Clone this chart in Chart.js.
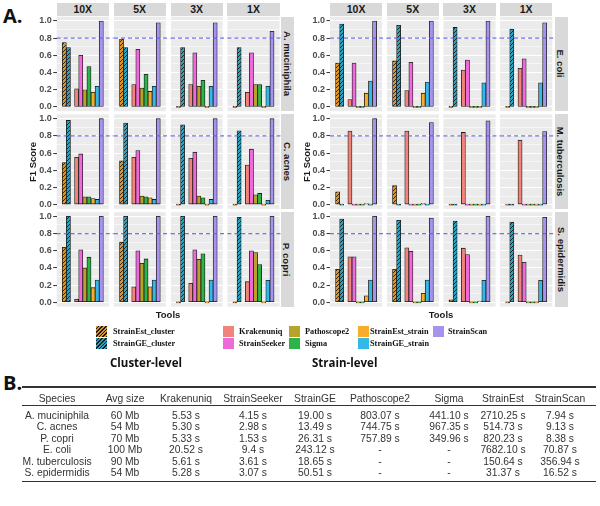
<!DOCTYPE html>
<html><head><meta charset="utf-8">
<script src="https://cdn.jsdelivr.net/npm/chart.js@4.4.1/dist/chart.umd.min.js"></script>
<style>
body{margin:0;width:600px;height:506px;background:#fff;position:relative;overflow:hidden;font-family:"Liberation Sans",Arial,sans-serif;}
.t{position:absolute;white-space:nowrap;}
.strip{position:absolute;background:#D9D9D9;color:#1a1a1a;font-weight:bold;font-size:10.5px;display:flex;align-items:center;justify-content:center;white-space:nowrap;overflow:visible;}
.strip.r{font-size:9.5px;}
.strip.r span{display:block;transform:rotate(90deg);}
canvas{position:absolute;}
.key{position:absolute;width:11px;height:11.5px;}
.lt{position:absolute;font-family:"Liberation Serif","DejaVu Serif",serif;font-weight:bold;font-size:8.3px;color:#111;white-space:nowrap;line-height:11.5px;}
.cell{position:absolute;font-size:10.3px;color:#333;white-space:nowrap;transform:translateX(-50%);line-height:12px;}
.hl{position:absolute;background:#333;}
</style></head><body>
<script>
// ---------------- DATA ----------------
const depths = ['10X', '5X', '3X', '1X'];
const clusterSpecies = ['A. muciniphila', 'C. acnes', 'P. copri'];
const strainSpecies = ['E. coli', 'M. tuberculosis', 'S. epidermidis'];
const tools = ['StrainEst_cluster', 'StrainGE_cluster', 'Krakenuniq', 'StrainSeeker', 'Pathoscope2', 'Sigma', 'StrainEst_strain', 'StrainGE_strain', 'StrainScan'];
const toolSlots = [0, 1, 3, 4, 5, 6, 7, 8, 9];
const yTicks = [0, 0.1, 0.2, 0.3, 0.4, 0.5, 0.6, 0.7, 0.8, 0.9, 1.0];
const threshold = 0.8;
// F1 scores per depth (10X, 5X, 3X, 1X), in tool order
const aMuciniphila = [
  [0.75, 0.69, 0.21, 0.60, 0.20, 0.47, 0.17, 0.24, 1.00],
  [0.79, 0.69, 0.26, 0.67, 0.22, 0.38, 0.18, 0.24, 0.98],
  [0, 0.69, 0.26, 0.63, 0.24, 0.31, 0, 0.24, 0.98],
  [0, 0.69, 0.17, 0.63, 0.26, 0.26, 0, 0.24, 0.88]];
const cAcnes = [
  [0.49, 0.98, 0.55, 0.59, 0.09, 0.09, 0.07, 0.06, 1.00],
  [0.51, 0.95, 0.55, 0.63, 0.10, 0.09, 0.08, 0.06, 1.00],
  [0, 0.93, 0.54, 0.61, 0.10, 0.08, 0, 0.06, 1.00],
  [0, 0.86, 0.46, 0.645, 0.115, 0.13, 0, 0.05, 1.00]];
const pCopri = [
  [0.64, 1.00, 0.035, 0.61, 0.40, 0.525, 0.17, 0.26, 1.00],
  [0.70, 1.00, 0.18, 0.60, 0.455, 0.505, 0.18, 0.26, 1.00],
  [0, 1.00, 0.22, 0.61, 0.50, 0.565, 0, 0.26, 1.00],
  [0, 0.99, 0.24, 0.60, 0.58, 0.44, 0, 0.255, 1.00]];
const eColi = [
  [0.51, 0.965, 0.085, 0.51, 0, 0, 0.16, 0.30, 1.00],
  [0.535, 0.95, 0.19, 0.52, 0, 0, 0.16, 0.29, 1.00],
  [0, 0.925, 0.43, 0.545, 0, 0, 0, 0.28, 1.00],
  [0, 0.905, 0.45, 0.56, 0, 0, 0, 0.28, 0.98]];
const mTuberculosis = [
  [0.15, 0, 0.855, 0, 0, 0, 0.01, 0, 1.00],
  [0.22, 0, 0.855, 0, 0, 0, 0.015, 0, 0.955],
  [0, 0, 0.84, 0, 0, 0, 0, 0, 0.975],
  [0, 0, 0.75, 0, 0, 0, 0, 0, 0.85]];
const sEpidermidis = [
  [0.385, 0.97, 0.53, 0.53, 0, 0, 0.075, 0.26, 1.00],
  [0.385, 0.955, 0.635, 0.595, 0, 0, 0.105, 0.26, 0.98],
  [0.03, 0.945, 0.63, 0.555, 0, 0, 0.015, 0.255, 1.00],
  [0, 0.935, 0.55, 0.465, 0, 0, 0, 0.255, 0.99]];
const clusterValues = [aMuciniphila, cAcnes, pCopri];
const strainValues = [eColi, mTuberculosis, sEpidermidis];
// Table B
const tableHeaders = ['Species', 'Avg size', 'Krakenuniq', 'StrainSeeker', 'StrainGE', 'Pathoscope2', 'Sigma', 'StrainEst', 'StrainScan'];
const tableRows = [
  ['A. muciniphila', '60 Mb', '5.53 s', '4.15 s', '19.00 s', '803.07 s', '441.10 s', '2710.25 s', '7.94 s'],
  ['C. acnes', '54 Mb', '5.30 s', '2.98 s', '13.49 s', '744.75 s', '967.35 s', '514.73 s', '9.13 s'],
  ['P. copri', '70 Mb', '5.33 s', '1.53 s', '26.31 s', '757.89 s', '349.96 s', '820.23 s', '8.38 s'],
  ['E. coli', '100 Mb', '20.52 s', '9.4 s', '243.12 s', '-', '-', '7682.10 s', '70.87 s'],
  ['M. tuberculosis', '90 Mb', '5.61 s', '3.61 s', '18.65 s', '-', '-', '150.64 s', '356.94 s'],
  ['S. epidermidis', '54 Mb', '5.28 s', '3.07 s', '50.51 s', '-', '-', '31.37 s', '16.52 s']];

// ---------------- STYLE ----------------
const toolColors = ['#DB952B', '#2AA3C0', '#F0837A', '#EE6ADB', '#B8A328', '#2DB34A', '#F7AC2A', '#33B8E8', '#A792EE'];
const hatched = [true, true, false, false, false, false, false, false, false];
const FONT = '"Liberation Sans", Arial, sans-serif';
const G = {
  left: { colX: [56.7, 113.6, 170.5, 227.4], stripX: 280.5, yTitleX: 33, toolsX: 168 },
  right: { colX: [330, 386.7, 443.4, 500.1], stripX: 554.5, yTitleX: 307, toolsX: 441 },
  rowY: [16.7, 114.4, 212.1], panelW: 52.2, panelH: 94.5, axisW: 30
};

function add(tag, cls, css, text) {
  const e = document.createElement(tag);
  if (cls) e.className = cls;
  Object.assign(e.style, css || {});
  if (text !== undefined) e.textContent = text;
  document.body.appendChild(e);
  return e;
}
function makePattern(ctx, base) {
  const c = document.createElement('canvas');
  c.width = 4; c.height = 4;
  const p = c.getContext('2d');
  p.fillStyle = base; p.fillRect(0, 0, 4, 4);
  p.strokeStyle = '#1a1a1a'; p.lineWidth = 0.9;
  p.beginPath();
  p.moveTo(-1, 5); p.lineTo(5, -1);
  p.moveTo(-1, 1); p.lineTo(1, -1);
  p.moveTo(3, 5); p.lineTo(5, 3);
  p.stroke();
  return ctx.createPattern(c, 'repeat');
}
const bgPlugin = {
  id: 'panelbg',
  beforeDraw(chart) {
    const a = chart.chartArea, ctx = chart.ctx;
    ctx.save(); ctx.fillStyle = '#EBEBEB';
    ctx.fillRect(a.left, a.top, a.right - a.left, a.bottom - a.top);
    ctx.restore();
  }
};
const hlinePlugin = {
  id: 'hline',
  afterDatasetsDraw(chart, args, opts) {
    const a = chart.chartArea, ctx = chart.ctx;
    const py = chart.scales.y.getPixelForValue(threshold);
    ctx.save();
    ctx.strokeStyle = 'rgba(92,92,228,0.85)'; ctx.lineWidth = 1.2; ctx.setLineDash([4, 3]);
    ctx.beginPath(); ctx.moveTo(a.left, py); ctx.lineTo(a.right + (opts.ext || 0), py); ctx.stroke();
    ctx.restore();
  }
};
const isMajor = v => Math.abs(Math.round(v * 10) % 2) === 0;

function panel(grid, row, col, values) {
  const px = grid.colX[col], py = G.rowY[row];
  const axisW = col === 0 ? G.axisW : 0;
  const gap = col < 3 ? (grid.colX[col + 1] - px - G.panelW) : 1;
  const pad = 9;
  const cv = add('canvas', null, {});
  const left = Math.round(px - axisW), top = Math.round(py - pad);
  const W = Math.ceil(axisW + G.panelW + gap + 1), H = Math.ceil(G.panelH + 2 * pad);
  cv.width = W; cv.height = H;
  cv.style.left = left + 'px'; cv.style.top = top + 'px';
  cv.style.width = W + 'px'; cv.style.height = H + 'px';
  const aw = px - left;                 // exact axis width so chart area starts at px
  const padTop = py - top;
  const padRight = W - aw - G.panelW;
  const padBottom = H - padTop - G.panelH;
  const ctx = cv.getContext('2d');
  const bg = toolColors.map((c, i) => hatched[i] ? makePattern(ctx, c) : c);
  new Chart(cv, {
    type: 'bar',
    data: {
      datasets: [{
        data: values.map((v, i) => ({ x: toolSlots[i], y: v })),
        backgroundColor: bg,
        borderColor: '#1a1a1a', borderWidth: 0.8, borderSkipped: false,
        barPercentage: 1, categoryPercentage: 1, minBarLength: 1
      }]
    },
    options: {
      responsive: false, maintainAspectRatio: false, animation: false, devicePixelRatio: 1,
      layout: { padding: { left: 0, right: padRight, top: padTop, bottom: padBottom } },
      plugins: { legend: { display: false }, tooltip: { enabled: false }, hline: { ext: gap } },
      scales: {
        x: { type: 'linear', min: -1.85, max: 10.85, offset: false, display: false },
        y: {
          min: -0.05, max: 1.05,
          afterBuildTicks: s => { s.ticks = yTicks.map(v => ({ value: v })); },
          afterFit: s => { s.width = aw; },
          border: { display: false },
          grid: {
            color: '#FFFFFF',
            lineWidth: c => (c.tick && isMajor(c.tick.value)) ? 1.1 : 0.55,
            drawTicks: col === 0, tickLength: 3.5, tickWidth: 1,
            tickColor: c => (c.tick && isMajor(c.tick.value)) ? '#333333' : 'rgba(0,0,0,0)'
          },
          ticks: {
            display: col === 0, padding: 1.5, autoSkip: false, maxRotation: 0,
            color: '#4D4D4D', font: { family: FONT, size: 9, weight: 'bold' },
            callback: v => isMajor(v) ? v.toFixed(1) : ''
          }
        }
      }
    },
    plugins: [bgPlugin, hlinePlugin]
  });
}

function facetGrid(grid, speciesList, valueSets) {
  depths.forEach((d, c) => {
    add('div', 'strip', { left: grid.colX[c] + 'px', top: '2.5px', width: G.panelW + 'px', height: '13.5px' }, d);
  });
  speciesList.forEach((sp, r) => {
    const s = add('div', 'strip r', { left: grid.stripX + 'px', top: G.rowY[r] + 'px', width: '13.5px', height: G.panelH + 'px' });
    const sp2 = document.createElement('span'); sp2.textContent = sp; s.appendChild(sp2);
    depths.forEach((d, c) => panel(grid, r, c, valueSets[r][c]));
  });
  add('div', 't', { left: (grid.yTitleX - 30) + 'px', top: (G.rowY[1] + G.panelH / 2 - 6) + 'px', width: '60px', height: '12px', textAlign: 'center', fontWeight: 'bold', fontSize: '9.5px', color: '#1a1a1a', transform: 'rotate(-90deg)', lineHeight: '12px' }, 'F1 Score');
  add('div', 't', { left: (grid.toolsX - 30) + 'px', top: '309px', width: '60px', textAlign: 'center', fontWeight: 'bold', fontSize: '9.5px', color: '#1a1a1a', lineHeight: '12px' }, 'Tools');
}

// Panel letters
add('div', 't', { left: '3px', top: '4px', fontWeight: 'bold', fontSize: '20px', color: '#111', fontFamily: '"Open Sans","Liberation Sans",sans-serif', lineHeight: '24px' }, 'A.');
add('div', 't', { left: '3px', top: '371px', fontWeight: 'bold', fontSize: '20px', color: '#111', fontFamily: '"Open Sans","Liberation Sans",sans-serif', lineHeight: '24px' }, 'B.');

facetGrid(G.left, clusterSpecies, clusterValues);
facetGrid(G.right, strainSpecies, strainValues);

// Legends
function key(x, y, i) {
  const k = add('div', 'key', { left: x + 'px', top: y + 'px' });
  if (hatched[i]) k.style.background = 'repeating-linear-gradient(135deg,' + toolColors[i] + ' 0px,' + toolColors[i] + ' 1.6px,#1a1a1a 1.6px,#1a1a1a 2.6px)';
  else k.style.background = toolColors[i];
}
const legendItems = [
  [0, 96, 325.5, 113], [1, 96, 337.5, 113],
  [2, 222.5, 325.5, 239], [3, 222.5, 337.5, 239],
  [4, 289, 325.5, 305], [5, 289, 337.5, 305],
  [6, 358, 325.5, 370], [7, 358, 337.5, 370],
  [8, 433, 325.5, 448]];
legendItems.forEach(([i, kx, ky, tx]) => { key(kx, ky, i); add('div', 'lt', { left: tx + 'px', top: ky + 'px' }, tools[i]); });
add('div', 't', { left: '110px', top: '355px', fontWeight: 'bold', fontSize: '11.5px', color: '#111', fontFamily: '"Open Sans","Liberation Sans",sans-serif', lineHeight: '16px' }, 'Cluster-level');
add('div', 't', { left: '312px', top: '355px', fontWeight: 'bold', fontSize: '11.5px', color: '#111', fontFamily: '"Open Sans","Liberation Sans",sans-serif', lineHeight: '16px' }, 'Strain-level');

// Table
const colCenters = [57, 125, 186, 253, 315, 380, 449, 503, 560];
add('div', 'hl', { left: '22px', top: '386px', width: '574px', height: '1.5px' });
add('div', 'hl', { left: '22px', top: '404.5px', width: '574px', height: '0.8px' });
add('div', 'hl', { left: '22px', top: '480.5px', width: '574px', height: '1.6px' });
tableHeaders.forEach((h, c) => add('div', 'cell', { left: colCenters[c] + 'px', top: '392.5px' }, h));
const rowY = [409.5, 421, 432.7, 444.3, 455.8, 467.4];
tableRows.forEach((r, ri) => r.forEach((v, c) => add('div', 'cell', { left: colCenters[c] + 'px', top: rowY[ri] + 'px' }, v)));
</script>
</body></html>
